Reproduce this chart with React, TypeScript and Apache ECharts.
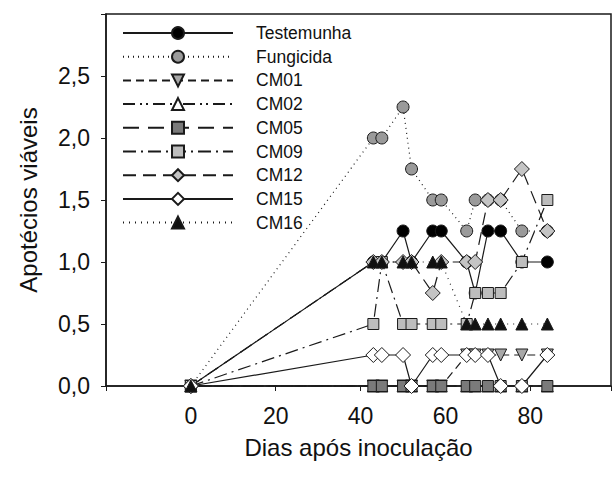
import React, { useEffect, useRef } from "react";
import * as echarts from "echarts";

const days = [0, 43, 45, 50, 52, 57, 59, 65, 67, 70, 73, 78, 84];
const testemunha = [0, 1, 1, 1.25, 1, 1.25, 1.25, 1, 0.75, 1.25, 1.25, 1, 1];
const fungicida = [0, 2, 2, 2.25, 1.75, 1.5, 1.5, 1.25, 1.5, 1.5, 1.5, 1.25, 1.25];
const cm01 = [0, 0, 0, 0, 0, 0, 0, 0.25, 0.25, 0.25, 0.25, 0.25, 0.25];
const cm02 = [0, 0, 0, 0, 0, 0, 0, 0, 0, 0, 0, 0, 0];
const cm05 = [0, 0, 0, 0, 0, 0, 0, 0, 0, 0, 0, 0, 0];
const cm09 = [0, 0.5, 1, 0.5, 0.5, 0.5, 0.5, 0.5, 0.75, 0.75, 0.75, 1, 1.5];
const cm12 = [0, 1, 1, 1, 1, 0.75, 1, 1, 1, 1.5, 1.5, 1.75, 1.25];
const cm15 = [0, 0.25, 0.25, 0.25, 0, 0.25, 0.25, 0.25, 0.25, 0.25, 0, 0, 0.25];
const cm16 = [0, 1, 1, 1, 1, 1, 1, 0.5, 0.5, 0.5, 0.5, 0.5, 0.5];

const xTickLabels = [0, 20, 40, 60, 80];
const yTickLabels = [0, 0.5, 1, 1.5, 2, 2.5];

const FONT = "'Liberation Sans', Arial, sans-serif";

type Spec = {
  name: string;
  values: number[];
  symbol: string;
  size: number;
  fill: string;
  dash: any;
  rotate?: number;
};

const specs: Spec[] = [
  { name: "Testemunha", values: testemunha, symbol: "circle", size: 12, fill: "#000", dash: "solid" },
  { name: "Fungicida", values: fungicida, symbol: "circle", size: 12, fill: "#9a9a9a", dash: [1, 4] },
  { name: "CM01", values: cm01, symbol: "triangle", size: 12, fill: "#a8a8a8", dash: [8, 5], rotate: 180 },
  { name: "CM02", values: cm02, symbol: "triangle", size: 12, fill: "#fff", dash: [12, 5, 2, 4, 2, 5] },
  { name: "CM05", values: cm05, symbol: "rect", size: 11, fill: "#7a7a7a", dash: [16, 9] },
  { name: "CM09", values: cm09, symbol: "rect", size: 11, fill: "#bdbdbd", dash: [13, 5, 2, 5] },
  { name: "CM12", values: cm12, symbol: "diamond", size: 15, fill: "#c4c4c4", dash: [13, 7] },
  { name: "CM15", values: cm15, symbol: "diamond", size: 15, fill: "#fff", dash: "solid" },
  { name: "CM16", values: cm16, symbol: "triangle", size: 12, fill: "#111", dash: [1, 5] },
];

export default function App() {
  const ref = useRef<HTMLDivElement>(null);
  useEffect(() => {
    if (!ref.current) return;
    const chart = echarts.init(ref.current, null, { renderer: "svg" });
    const series = specs.map((s) => ({
      name: s.name,
      type: "line",
      data: days.map((d, i) => [d, s.values[i]]),
      symbol: s.symbol,
      symbolSize: s.size,
      symbolRotate: s.rotate || 0,
      showAllSymbol: true,
      clip: false,
      lineStyle: { color: "#1a1a1a", width: 1.2, type: s.dash },
      itemStyle: { color: s.fill, borderColor: "#1a1a1a", borderWidth: 1 },
      emphasis: { disabled: true },
    }));
    chart.setOption({
      animation: false,
      backgroundColor: "#fff",
      grid: {
        left: 106,
        right: 0,
        top: 14,
        bottom: 91,
        show: true,
        borderColor: "#1a1a1a",
        borderWidth: 1.5,
        containLabel: false,
      },
      legend: {
        orient: "vertical",
        left: 117,
        top: 19,
        itemWidth: 110,
        itemHeight: 15,
        itemGap: 5.7,
        selectedMode: false,
        textStyle: {
          fontFamily: FONT,
          fontSize: 17.5,
          lineHeight: 17,
          color: "#111",
          padding: [0, 0, 0, 18],
        },
        data: specs.map((s) => s.name),
      },
      xAxis: {
        type: "value",
        min: -20,
        max: 99,
        interval: 20,
        name: "Dias após inoculação",
        nameLocation: "middle",
        nameGap: 49,
        nameTextStyle: { fontFamily: FONT, fontSize: 24, color: "#111" },
        axisLine: { onZero: false, lineStyle: { color: "#1a1a1a", width: 1.5 } },
        axisTick: { show: true, length: 5, lineStyle: { color: "#1a1a1a" } },
        splitLine: { show: false },
        axisLabel: {
          fontFamily: FONT,
          fontSize: 23,
          color: "#111",
          margin: 18,
          formatter: (v: number) => (xTickLabels.includes(v) ? String(v) : ""),
        },
      },
      yAxis: {
        type: "value",
        min: 0,
        max: 3,
        interval: 0.5,
        name: "Apotécios viáveis",
        nameLocation: "middle",
        nameGap: 66,
        nameTextStyle: { fontFamily: FONT, fontSize: 24, color: "#111" },
        axisLine: { show: true, onZero: false, lineStyle: { color: "#1a1a1a", width: 1.5 } },
        axisTick: { show: true, length: 5, lineStyle: { color: "#1a1a1a" } },
        splitLine: { show: false },
        axisLabel: {
          fontFamily: FONT,
          fontSize: 23,
          color: "#111",
          margin: 16,
          formatter: (v: number) =>
            yTickLabels.some((t) => Math.abs(t - v) < 1e-9) ? v.toFixed(1).replace(".", ",") : "",
        },
      },
      series,
    });
    return () => chart.dispose();
  }, []);
  return <div ref={ref} style={{ width: 614, height: 477, position: "absolute", left: 0, top: 0 }} />;
}
